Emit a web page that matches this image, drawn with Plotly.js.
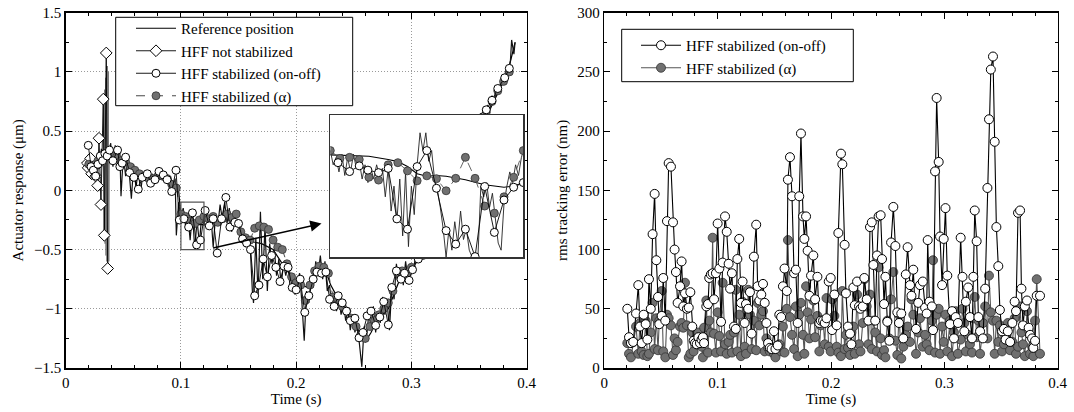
<!DOCTYPE html>
<html>
<head>
<meta charset="utf-8">
<script src="https://cdn.plot.ly/plotly-3.0.1.min.js"></script>
<style>html,body{margin:0;padding:0;background:#fff;}#chart{width:1074px;height:412px;}</style>
</head>
<body>
<div id="chart"></div>
<script>
// ---------------- LEFT PLOT DATA (Actuator response, µm) ----------------
const refT = [0.020,0.025,0.030,0.035,0.040,0.045,0.050,0.055,0.060,0.065,0.070,0.075,0.080,0.085,0.090,0.095,0.098,0.100,0.105,0.110,0.115,0.120,0.130,0.140,0.150,0.155,0.160,0.170,0.180,0.190,0.200,0.210,0.215,0.220,0.225,0.230,0.240,0.250,0.255,0.260,0.265,0.270,0.280,0.290,0.300,0.310,0.320,0.330,0.340,0.350,0.360,0.370,0.380,0.385,0.390];
const refY = [0.24,0.22,0.25,0.27,0.30,0.28,0.24,0.20,0.16,0.13,0.11,0.10,0.12,0.12,0.10,0.06,0.00,-0.21,-0.23,-0.27,-0.29,-0.29,-0.26,-0.22,-0.28,-0.38,-0.43,-0.45,-0.50,-0.65,-0.78,-0.82,-0.72,-0.65,-0.66,-0.80,-0.98,-1.10,-1.20,-1.28,-1.20,-1.10,-1.00,-0.75,-0.65,-0.55,-0.45,-0.30,-0.10,0.15,0.50,0.72,0.92,1.05,1.25];

const nsT = [0.0188,0.0195,0.0216,0.0225,0.024,0.026,0.0277,0.0289,0.0306,0.0326,0.0335,0.0352,0.0364];
const nsY = [0.23,0.19,0.27,0.14,0.20,0.12,0.04,0.44,-0.12,0.77,-0.38,1.16,-0.66];
const nsRawT = [0.0330,0.0334,0.0338,0.0342,0.0346,0.0350,0.0354,0.0358,0.0362,0.0366,0.0370,0.0374,0.0378];
const nsRawY = [0.78,-0.35,0.85,-0.45,0.95,-0.55,1.05,-0.60,1.05,-0.65,1.00,-0.60,0.30];

const rawT = [0.019,0.021,0.023,0.025,0.027,0.029,0.031,0.033,0.035,0.037,
0.039,0.041,0.043,0.045,0.047,0.048,0.050,0.052,0.054,0.056,
0.057,0.059,0.061,0.063,0.065,0.067,0.069,0.071,0.073,0.075,
0.077,0.079,0.081,0.083,0.085,0.087,0.089,0.091,0.093,0.095,
0.096,0.098,0.100,0.102,0.104,0.106,0.108,0.110,0.112,0.114,
0.116,0.118,0.120,0.122,0.124,0.126,0.128,0.130,0.132,0.134,
0.136,0.138,0.140,0.142,0.144,0.146,0.148,0.150,0.152,0.154,
0.156,0.158,0.160,0.162,0.163,0.165,0.167,0.169,0.171,0.173,
0.175,0.177,0.179,0.181,0.183,0.185,0.187,0.189,0.191,0.193,
0.195,0.197,0.199,0.201,0.203,0.205,0.207,0.209,0.211,0.213,
0.215,0.217,0.219,0.221,0.223,0.225,0.227,0.229,0.231,0.233,
0.235,0.237,0.239,0.241,0.243,0.245,0.247,0.249,0.251,0.253,
0.255,0.257,0.259,0.261,0.263,0.265,0.267,0.269,0.271,0.273,
0.275,0.277,0.279,0.281,0.283,0.285,0.287,0.289,0.291,0.293,
0.295,0.297,0.299,0.301,0.304,0.360,0.362,0.364,0.366,0.368,
0.370,0.372,0.374,0.376,0.378,0.380,0.382,0.384,0.386,0.387,
0.389,0.390];
const rawY = [0.30,0.15,0.25,0.10,0.28,0.18,0.35,0.22,0.36,0.27,
0.40,0.20,0.38,0.25,0.33,-0.05,0.30,0.12,0.28,0.05,
-0.07,0.22,0.02,0.18,-0.02,0.15,0.08,0.16,0.03,0.14,
0.07,0.15,0.10,0.14,0.08,0.13,0.06,0.12,-0.02,0.10,
-0.38,-0.10,-0.22,-0.15,-0.30,-0.20,-0.42,-0.18,-0.50,-0.25,
-0.45,-0.22,-0.30,-0.15,-0.33,-0.20,-0.48,-0.22,-0.30,-0.12,
-0.25,-0.10,-0.28,-0.15,-0.35,-0.20,-0.30,-0.25,-0.42,-0.35,
-0.48,-0.40,-0.45,-0.85,-0.95,-0.40,-0.90,-0.18,-0.75,-0.30,
-0.85,-0.45,-0.62,-0.50,-0.72,-0.58,-0.80,-0.62,-0.72,-0.62,
-0.85,-0.75,-0.88,-0.78,-0.70,-0.95,-1.27,-0.85,-0.95,-0.75,
-0.82,-0.60,-0.72,-0.55,-0.75,-0.60,-0.85,-0.80,-1.00,-0.88,
-1.02,-0.90,-1.05,-0.95,-1.10,-1.00,-1.18,-1.05,-1.20,-1.12,
-1.30,-1.49,-1.15,-1.25,-1.05,-1.15,-0.98,-1.20,-1.02,-1.12,
-0.90,-1.05,-0.95,-1.18,-0.80,-0.92,-0.62,-0.78,-0.65,-0.80,
-0.60,-0.75,-0.62,-0.70,-0.55,0.55,0.66,0.60,0.72,0.68,
0.80,0.74,0.88,0.82,0.95,0.90,1.02,0.98,1.10,1.27,
1.15,1.25];

const mainOnOffT = [0.0196,0.022,0.024,0.026,0.028,0.030,0.032,0.034,0.036,0.038,
0.041,0.045,0.047,0.049,0.052,0.0555,0.0592,0.063,0.0664,0.0708,
0.0737,0.0775,0.081,0.0847,0.088,0.092,0.0957,0.0986,0.1026,0.1067,
0.110,0.1136,0.117,0.121,0.1246,0.128,0.1315,0.1353,0.139,0.1425,
0.1468,0.150,0.1535,0.157,0.1604,0.164,0.1677,0.1714,0.175,0.1787,
0.1824,0.186,0.1894,0.193,0.1966,0.200,0.2035,0.2075,0.211,0.2148,
0.218,0.222,0.2258,0.229,0.233,0.2365,0.240,0.2437,0.247,0.251,
0.2546,0.258,0.2616,0.265,0.269,0.2726,0.276,0.280,0.283,0.287,
0.291,0.294,0.298,0.301,0.306,0.312,0.318,0.324,0.330,0.336,
0.342,0.348,0.354,0.359,0.362,0.365,0.370,0.375,0.381,0.385];
const mainOnOffY = [0.38,0.20,0.17,0.12,0.22,0.29,0.25,0.31,0.29,0.34,
0.25,0.34,0.20,0.23,0.28,0.15,0.11,0.01,0.11,0.14,
0.06,0.09,0.16,0.13,0.09,-0.01,0.17,-0.25,-0.24,-0.31,
-0.19,-0.46,-0.42,-0.17,-0.30,-0.24,-0.53,-0.24,-0.06,-0.31,
-0.27,-0.28,-0.41,-0.445,-0.50,-0.89,-0.80,-0.58,-0.73,-0.55,
-0.65,-0.77,-0.64,-0.65,-0.82,-0.84,-0.75,-1.03,-0.89,-0.75,
-0.69,-0.70,-0.69,-0.92,-0.98,-0.89,-0.95,-1.02,-1.10,-1.08,
-1.245,-1.20,-1.06,-1.02,-1.14,-1.07,-0.94,-1.135,-0.82,-0.68,
-0.75,-0.70,-0.76,-0.67,-0.58,-0.52,-0.46,-0.36,-0.25,-0.10,
0.08,0.28,0.45,0.56,0.62,0.68,0.76,0.86,0.95,1.03];

const mainAlphaT = [0.020,0.024,0.028,0.032,0.036,0.040,0.044,0.048,0.052,0.056,
0.060,0.064,0.068,0.072,0.076,0.080,0.084,0.088,0.092,0.096,
0.100,0.104,0.108,0.112,0.116,0.120,0.124,0.128,0.132,0.136,
0.140,0.144,0.148,0.152,0.156,0.160,0.164,0.168,0.172,0.176,
0.180,0.184,0.188,0.192,0.196,0.200,0.204,0.208,0.212,0.216,
0.220,0.224,0.228,0.232,0.236,0.240,0.244,0.248,0.252,0.256,
0.260,0.264,0.268,0.272,0.276,0.280,0.284,0.288,0.292,0.296,
0.300,0.310,0.320,0.330,0.340,0.350,0.360,0.365,0.370,0.375,
0.380,0.385];
const mainAlphaY = [0.22,0.20,0.25,0.24,0.30,0.30,0.28,0.25,0.24,0.20,
0.17,0.14,0.12,0.10,0.10,0.12,0.12,0.10,0.05,0.02,
-0.20,-0.22,-0.26,-0.28,-0.25,-0.22,-0.24,-0.22,-0.27,-0.24,
-0.20,-0.23,-0.20,-0.35,-0.40,-0.42,-0.32,-0.30,-0.31,-0.33,
-0.42,-0.48,-0.50,-0.62,-0.73,-0.78,-0.80,-0.93,-0.80,-0.68,
-0.64,-0.65,-0.70,-0.90,-0.92,-0.98,-1.02,-1.08,-1.15,-1.22,
-1.25,-1.15,-1.10,-1.05,-1.00,-0.95,-0.85,-0.70,-0.68,-0.72,
-0.65,-0.55,-0.42,-0.22,0.05,0.35,0.58,0.66,0.75,0.84,
0.92,1.00];

// ---------------- INSET DATA (0.10–0.12 s) ----------------
const insetRefT = [0.100,0.102,0.104,0.106,0.107,0.108,0.109,0.110,0.111,0.112,0.114,0.116,0.118,0.119,0.120];
const insetRefY = [-0.212,-0.214,-0.216,-0.225,-0.231,-0.245,-0.265,-0.272,-0.270,-0.272,-0.282,-0.296,-0.303,-0.300,-0.290];
const insetOnOffT = [0.1008,0.102,0.103,0.1039,0.105,0.106,0.1069,0.108,0.109,0.110,0.111,0.112,0.113,0.114,0.115,0.116,0.117,0.118,0.119,0.120];
const insetOnOffY = [-0.234,-0.259,-0.243,-0.255,-0.262,-0.250,-0.392,-0.421,-0.245,-0.200,-0.306,-0.425,-0.463,-0.421,-0.498,-0.301,-0.430,-0.339,-0.303,-0.290];
const insetAlphaT = [0.100,0.101,0.102,0.103,0.104,0.105,0.106,0.107,0.108,0.109,0.110,0.111,0.112,0.113,0.114,0.115,0.116,0.117,0.118,0.119,0.120];
const insetAlphaY = [-0.200,-0.222,-0.219,-0.225,-0.275,-0.283,-0.240,-0.234,-0.257,-0.285,-0.271,-0.279,-0.313,-0.278,-0.219,-0.278,-0.356,-0.376,-0.330,-0.275,-0.200];
const insetRawT = [0.1000,0.1003,0.1006,0.1009,0.1012,0.1015,0.1018,0.1021,0.1024,0.1027,
0.1030,0.1033,0.1036,0.1039,0.1042,0.1045,0.1048,0.1051,0.1054,0.1057,
0.1060,0.1063,0.1066,0.1069,0.1072,0.1075,0.1078,0.1081,0.1084,0.1087,
0.1090,0.1093,0.1096,0.1099,0.1102,0.1105,0.1108,0.1111,0.1114,0.1117,
0.1120,0.1123,0.1126,0.1129,0.1132,0.1135,0.1138,0.1141,0.1144,0.1147,
0.1150,0.1153,0.1156,0.1159,0.1162,0.1165,0.1168,0.1171,0.1174,0.1177,
0.1180,0.1183,0.1186,0.1189,0.1192,0.1195,0.1198,0.1200];
const insetRawY = [-0.20,-0.24,-0.22,-0.26,-0.21,-0.27,-0.22,-0.26,-0.21,-0.25,
-0.23,-0.28,-0.24,-0.29,-0.25,-0.28,-0.24,-0.27,-0.25,-0.33,
-0.25,-0.37,-0.30,-0.40,-0.28,-0.44,-0.26,-0.47,-0.30,-0.38,
-0.24,-0.15,-0.20,-0.15,-0.23,-0.20,-0.28,-0.31,-0.36,-0.42,
-0.50,-0.42,-0.48,-0.40,-0.46,-0.37,-0.45,-0.42,-0.48,-0.50,
-0.50,-0.50,-0.30,-0.33,-0.29,-0.36,-0.32,-0.40,-0.46,-0.48,
-0.35,-0.30,-0.26,-0.29,-0.24,-0.27,-0.22,-0.20];

// ---------------- RIGHT PLOT DATA (rms tracking error, nm) ----------------
const rmsT = [0.0203,0.0218,0.0235,0.0255,0.028,0.030,0.0315,0.033,0.0347,0.0365,
0.038,0.0394,0.041,0.0426,0.0444,0.0459,0.0474,0.0485,0.0506,0.052,
0.0538,0.0553,0.0568,0.0588,0.0606,0.062,0.0632,0.0647,0.0668,0.0682,
0.0697,0.0712,0.0729,0.0745,0.0759,0.0776,0.0788,0.080,0.0815,0.083,
0.0844,0.0858,0.087,0.088,0.090,0.0915,0.0926,0.094,0.0956,0.0968,
0.0985,0.100,0.1015,0.103,0.1044,0.1065,0.108,0.1097,0.111,0.1126,
0.1144,0.116,0.1174,0.119,0.1206,0.122,0.1238,0.125,0.127,0.1285,
0.130,0.132,0.134,0.1353,0.1368,0.1385,0.140,0.1415,0.143,0.1445,
0.146,0.1476,0.1497,0.151,0.153,0.1544,0.156,0.1576,0.159,0.161,
0.162,0.1638,0.1656,0.1674,0.169,0.1706,0.172,0.1735,0.1753,0.1765,
0.178,0.1794,0.181,0.1824,0.1844,0.186,0.188,0.1897,0.191,0.193,
0.1945,0.196,0.198,0.1997,0.201,0.203,0.205,0.2065,0.2088,0.210,
0.212,0.2132,0.215,0.2168,0.218,0.2197,0.221,0.223,0.2247,0.226,
0.228,0.2294,0.2315,0.233,0.2344,0.236,0.2374,0.239,0.2406,0.242,
0.2438,0.245,0.2468,0.248,0.2497,0.2515,0.253,0.255,0.2568,0.2585,
0.260,0.262,0.2638,0.266,0.2676,0.2697,0.271,0.2726,0.275,0.277,
0.2785,0.281,0.283,0.2844,0.2853,0.2868,0.289,0.290,0.2918,0.2932,
0.295,0.2962,0.298,0.2994,0.301,0.3026,0.305,0.3068,0.3085,0.310,
0.312,0.3144,0.316,0.3176,0.319,0.321,0.3226,0.3244,0.3256,0.3268,
0.3285,0.330,0.3315,0.334,0.336,0.338,0.3394,0.341,0.3429,0.3444,
0.3459,0.3476,0.349,0.3509,0.3526,0.354,0.356,0.358,0.360,0.362,
0.3632,0.365,0.3668,0.368,0.3694,0.371,0.3729,0.3744,0.3756,0.3774,
0.3785,0.380,0.3815,0.3844];
const rmsOnOff = [50,26,21,22,46,70,35,21,45,37,
24,75,50,113,147,91,60,37,44,76,
40,124,173,170,123,100,81,55,69,90,
52,63,50,51,64,35,23,21,20,26,
21,24,26,21,52,54,76,79,80,58,
80,122,84,39,89,128,115,88,67,80,
35,33,92,109,55,73,38,54,50,64,
29,94,121,69,57,62,71,55,38,21,
17,16,31,16,19,45,43,69,84,65,
159,178,145,80,83,38,145,198,128,109,
128,99,61,78,95,58,77,38,40,40,
38,42,73,76,32,62,36,114,181,172,
104,63,35,29,20,68,53,73,52,50,
52,76,58,40,119,123,87,40,95,128,
129,92,54,77,39,23,106,136,103,47,
38,46,25,79,102,70,61,83,33,55,
70,73,51,46,108,56,52,32,166,228,
174,111,70,109,135,78,37,48,25,43,
38,110,77,31,56,68,43,25,77,133,
107,43,31,25,67,152,210,252,263,191,
119,86,49,31,33,24,31,22,38,56,
48,131,133,67,36,52,57,34,28,25,
17,23,61,61];
const rmsAlpha = [21,12,9,22,35,12,38,14,11,40,
10,12,30,55,16,42,15,40,65,14,
9,45,42,36,11,25,15,22,35,38,
34,72,36,9,12,30,14,24,20,30,
25,18,9,34,57,13,40,30,110,29,
13,47,27,14,72,20,12,22,28,13,
30,66,14,45,10,56,18,12,66,45,
16,40,15,55,36,45,48,14,25,17,
14,18,12,9,16,20,14,35,13,50,
108,43,28,16,52,10,45,55,28,12,
69,47,25,41,57,26,44,14,36,40,
20,59,18,14,58,44,18,13,10,65,
16,28,17,11,30,35,12,62,20,14,
38,75,52,20,62,16,40,30,14,85,
25,11,15,9,40,25,58,81,23,11,
45,8,18,28,35,22,58,45,12,30,
42,18,28,20,50,15,40,91,13,45,
50,12,35,22,45,14,40,10,30,48,
12,24,50,38,14,28,20,13,42,60,
26,40,12,38,52,25,78,47,40,12,
40,22,36,14,20,28,38,15,22,42,
12,18,52,30,20,10,48,32,12,18,
10,40,75,12];

// ---------------- LABELS ----------------
const legendLabels = ['Reference position','HFF not stabilized','HFF stabilized (on-off)','HFF stabilized (\u03b1)'];
const axisTitles = {left:'Actuator response (\u03bcm)', right:'rms tracking error (nm)', time:'Time (s)'};

// ---------------- STYLES ----------------
const FONT = 'Liberation Serif, Times New Roman, serif';
const GREY = '#707070';
const W = 1074, H = 412;
const px = v => v / W;
const py = v => 1 - v / H;

const traces = [
  // main plot
  {x: refT, y: refY, mode:'lines', name: legendLabels[0], line:{color:'#000', width:1.2}, legend:'legend', legendrank:1, xaxis:'x', yaxis:'y'},
  {x: nsRawT, y: nsRawY, mode:'lines', showlegend:false, line:{color:'#777', width:1}, xaxis:'x', yaxis:'y', hoverinfo:'skip'},
  {x: rawT, y: rawY, mode:'lines', showlegend:false, line:{color:'#111', width:1.2}, xaxis:'x', yaxis:'y', hoverinfo:'skip'},
  {x: nsT, y: nsY, mode:'lines+markers', name: legendLabels[1], line:{color:'#000', width:0.9},
   marker:{symbol:'diamond', size:9, color:'#fff', line:{color:'#000', width:1}}, legend:'legend', legendrank:2, xaxis:'x', yaxis:'y'},
  {x: mainAlphaT, y: mainAlphaY, mode:'lines+markers', name: legendLabels[3], line:{color:'#333', width:0.9, dash:'dash'},
   marker:{symbol:'circle', size:8, color:GREY, line:{color:'#333', width:0.8}}, legend:'legend', legendrank:4, xaxis:'x', yaxis:'y'},
  {x: mainOnOffT, y: mainOnOffY, mode:'lines+markers', name: legendLabels[2], line:{color:'#000', width:0.9},
   marker:{symbol:'circle', size:8, color:'#fff', line:{color:'#000', width:1}}, legend:'legend', legendrank:3, xaxis:'x', yaxis:'y'},
  // inset
  {x: insetRefT, y: insetRefY, mode:'lines', showlegend:false, line:{color:'#000', width:1.1}, xaxis:'x3', yaxis:'y3', hoverinfo:'skip'},
  {x: insetRawT, y: insetRawY, mode:'lines', showlegend:false, line:{color:'#222', width:0.9}, xaxis:'x3', yaxis:'y3', hoverinfo:'skip'},
  {x: insetAlphaT, y: insetAlphaY, mode:'lines+markers', showlegend:false, line:{color:'#555', width:0.9, dash:'dash'},
   marker:{symbol:'circle', size:8, color:GREY, line:{color:'#333', width:0.8}}, xaxis:'x3', yaxis:'y3'},
  {x: insetOnOffT, y: insetOnOffY, mode:'lines+markers', showlegend:false, line:{color:'#000', width:0.9},
   marker:{symbol:'circle', size:8, color:'#fff', line:{color:'#000', width:1}}, xaxis:'x3', yaxis:'y3'},
  // right plot
  {x: rmsT, y: rmsAlpha, mode:'lines+markers', name: legendLabels[3], line:{color:'#555', width:1.1},
   marker:{symbol:'circle', size:9, color:GREY, line:{color:'#333', width:0.8}}, legend:'legend2', legendrank:2, xaxis:'x2', yaxis:'y2'},
  {x: rmsT, y: rmsOnOff, mode:'lines+markers', name: legendLabels[2], line:{color:'#000', width:1.1},
   marker:{symbol:'circle', size:9, color:'#fff', line:{color:'#000', width:1}}, legend:'legend2', legendrank:1, xaxis:'x2', yaxis:'y2'}
];

const baseAxis = {
  ticks:'inside', ticklen:6, tickwidth:1, tickcolor:'#000', mirror:'allticks',
  showline:true, linecolor:'#000', linewidth:1.5, zeroline:false,
  tickfont:{family:FONT, size:15, color:'#000'}
};

const layout = {
  width: W, height: H,
  margin:{l:0, r:0, t:0, b:0},
  paper_bgcolor:'#fff', plot_bgcolor:'#fff',
  font:{family:FONT, size:15, color:'#000'},
  xaxis: Object.assign({}, baseAxis, {domain:[px(65.7), px(526.6)], anchor:'y', range:[0,0.4], tick0:0, dtick:0.1,
    showgrid:true, gridcolor:'#9a9a9a', griddash:'1px,2px', gridwidth:1,
    minor:{dtick:0.02, ticks:'inside', ticklen:3, tickcolor:'#000', showgrid:false},
    title:{text:axisTitles.time, font:{family:FONT, size:15}, standoff:0}}),
  yaxis: Object.assign({}, baseAxis, {domain:[py(368), py(12.7)], anchor:'x', range:[-1.5,1.5], tick0:0, dtick:0.5,
    showgrid:true, gridcolor:'#9a9a9a', griddash:'1px,2px', gridwidth:1,
    minor:{dtick:0.25, ticks:'inside', ticklen:3, tickcolor:'#000', showgrid:false},
    title:{text:axisTitles.left, font:{family:FONT, size:15}, standoff:6}}),
  xaxis2: Object.assign({}, baseAxis, {domain:[px(604.3), px(1057.7)], anchor:'y2', range:[0,0.4], tick0:0, dtick:0.1,
    showgrid:false, minor:{dtick:0.02, ticks:'inside', ticklen:3, tickcolor:'#000', showgrid:false},
    title:{text:axisTitles.time, font:{family:FONT, size:15}, standoff:0}}),
  yaxis2: Object.assign({}, baseAxis, {domain:[py(368), py(12.7)], anchor:'x2', range:[0,300], tick0:0, dtick:50,
    showgrid:false, minor:{dtick:25, ticks:'inside', ticklen:3, tickcolor:'#000', showgrid:false},
    title:{text:axisTitles.right, font:{family:FONT, size:15}, standoff:6}}),
  xaxis3: {domain:[px(330.3), px(523.3)], anchor:'y3', range:[0.1,0.12], showline:true, mirror:true, linecolor:'#333', linewidth:1.5,
    ticks:'', showticklabels:false, showgrid:false, zeroline:false, fixedrange:true},
  yaxis3: {domain:[py(257.3), py(115)], anchor:'x3', range:[-0.5,-0.1], showline:true, mirror:true, linecolor:'#333', linewidth:1.5,
    ticks:'', showticklabels:false, showgrid:false, zeroline:false, fixedrange:true},
  legend:{x:px(131), y:py(12), xanchor:'left', yanchor:'top', bgcolor:'rgba(0,0,0,0)', borderwidth:0,
    font:{family:FONT, size:15, color:'#000'}, itemwidth:40, tracegroupgap:0},
  legend2:{x:px(636), y:py(29), xanchor:'left', yanchor:'top', bgcolor:'rgba(0,0,0,0)', borderwidth:0,
    font:{family:FONT, size:15, color:'#000'}, itemwidth:40, tracegroupgap:0},
  shapes:[
    {type:'rect', xref:'x3', yref:'y3', x0:0.1, x1:0.12, y0:-0.5, y1:-0.1, fillcolor:'#fff', line:{width:0}, layer:'below'},
    {type:'rect', xref:'x', yref:'y', x0:0.1, x1:0.12, y0:-0.5, y1:-0.1, fillcolor:'rgba(0,0,0,0)', line:{color:'#555', width:1.2}, layer:'above'},
    {type:'rect', xref:'paper', yref:'paper', x0:px(115.7), x1:px(352.7), y0:py(105.7), y1:py(17.3), fillcolor:'#fff', line:{color:'#000', width:1}, layer:'above'},
    {type:'rect', xref:'paper', yref:'paper', x0:px(621.7), x1:px(853.3), y0:py(81.7), y1:py(29.3), fillcolor:'#fff', line:{color:'#000', width:1}, layer:'above'}
  ],
  annotations:[
    {xref:'x', yref:'y', axref:'x', ayref:'y', x:0.222, y:-0.28, ax:0.1266, ay:-0.49, text:'', showarrow:true,
     arrowhead:2, arrowsize:1.5, arrowwidth:1.5, arrowcolor:'#000', standoff:0, startstandoff:0}
  ],
  showlegend:true
};

Plotly.newPlot('chart', traces, layout, {staticPlot:true, displayModeBar:false});
</script>
</body>
</html>
